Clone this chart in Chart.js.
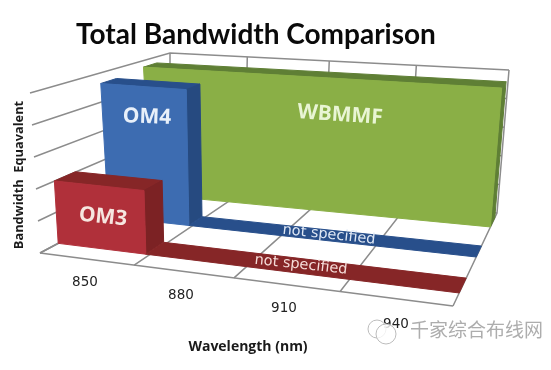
<!DOCTYPE html>
<html>
<head>
<meta charset="utf-8">
<title>Total Bandwidth Comparison</title>
<style>
  html, body { margin: 0; padding: 0; background: #fff; }
  #box { width: 551px; height: 370px; }
</style>
<script src="https://cdn.jsdelivr.net/npm/chart.js@4"></script>
</head>
<body>
<div id="box"><canvas id="chart" width="551" height="370"></canvas></div>
<script>
"use strict";

const wavelengths = ['850', '880', '910', '940'];
const valueTicks = [0, 1, 2, 3, 4, 5];
const om3Values = [2, 0, 0, 0];
const om4Values = [4.6, 0, 0, 0];
const wbmmfValues = [4.7, 4.7, 4.7, 4.7];

// depth slots of the three rows on the floor, 0 = front edge, 1 = back wall
const rows = [
    { name: 'OM3', values: om3Values, v0: 0.14, v1: 0.30, front: '#b0303a', top: '#862627', side: '#7c2224' },
    { name: 'OM4', values: om4Values, v0: 0.527, v1: 0.645, front: '#3d6cb1', top: '#284f8b', side: '#264a80' },
    { name: 'WBMMF', values: wbmmfValues, v0: 0.85, v1: 0.95, front: '#8aaf46', top: '#5f7f35', side: '#5f7f35' }
];

// corners of the 3d box as they land on the picture
const floorFL = [40, 253], floorFR = [453, 306], floorBL = [170, 184], floorBR = [497, 213];
const roofFL = [30, 93], roofFR = [465, 131], roofBL = [170, 53], roofBR = [509, 70];
const PERSP = 0.886;
const BAR_LEAN = 7; // bars lean a bit further left than the wall corner
const BAR_INSET = 0.04;

const mix = (a, b, t) => [a[0] + (b[0] - a[0]) * t, a[1] + (b[1] - a[1]) * t];

// u: 0..number of categories, v: depth 0..1, value: on the value axis
const project = (u, v, value, lean = 0) => {
    const t = u / wavelengths.length;
    const w = PERSP * t / (1 + (PERSP - 1) * t);
    const h = value / valueTicks[valueTicks.length - 1];
    const low = mix(mix(floorFL, floorFR, w), mix(floorBL, floorBR, w), v);
    const high = mix(mix(roofFL, roofFR, w), mix(roofBL, roofBR, w), v);
    const p = mix(low, high, h);
    return { x: p[0] - lean * v * h * Math.pow(1 - w, 3), y: p[1] };
};

const datasets = [];
const addShape = (points, color) => datasets.push({
    data: points, borderColor: color, backgroundColor: color, borderWidth: 1,
    fill: 'shape', pointRadius: 0, tension: 0
});
const addLine = (points) => datasets.push({
    data: points, borderColor: '#8c8c8c', borderWidth: 1.5, fill: false, pointRadius: 0, tension: 0
});

// walls and floor grid
const maxValue = valueTicks[valueTicks.length - 1];
valueTicks.forEach(val => addLine([project(0, 0, val), project(0, 1, val), project(wavelengths.length, 1, val)]));
for (let i = 0; i <= wavelengths.length; i++) {
    addLine([project(i, 0, 0), project(i, 1, 0), project(i, 1, maxValue)]);
}
addLine([project(0, 0, 0), project(wavelengths.length, 0, 0)]);

// bars, back row first; equal neighbours are merged to one block
[...rows].reverse().forEach(row => {
    const n = row.values.length;
    let i = 0;
    while (i < n) {
        let j = i + 1;
        while (j < n && row.values[j] === row.values[i]) j++;
        const val = row.values[i];
        const end = j < n ? j - BAR_INSET : j;
        const at = (u, v, height) => project(u, v, height, BAR_LEAN);
        if (val === 0) {
            const start = i - BAR_INSET; // the flat strip runs up to the bar next to it
            addShape([at(start, row.v0, 0), at(j, row.v0, 0), at(j, row.v1, 0), at(start, row.v1, 0), at(start, row.v0, 0)], row.top);
        } else {
            addShape([at(i, row.v0, val), at(end, row.v0, val), at(end, row.v1, val), at(i, row.v1, val), at(i, row.v0, val)], row.top);
            addShape([at(end, row.v0, 0), at(end, row.v1, 0), at(end, row.v1, val), at(end, row.v0, val), at(end, row.v0, 0)], row.side);
            addShape([at(i, row.v0, 0), at(end, row.v0, 0), at(end, row.v0, val), at(i, row.v0, val), at(i, row.v0, 0)], row.front);
        }
        i = j;
    }
});
datasets.forEach((d, i) => { d.order = datasets.length - i; });

const drawText = (ctx, text, x, y, font, color, angle = 0) => {
    ctx.save();
    ctx.translate(x, y);
    ctx.rotate(angle * Math.PI / 180);
    ctx.font = font;
    ctx.fillStyle = color;
    ctx.textAlign = 'center';
    ctx.textBaseline = 'middle';
    ctx.fillText(text, 0, 0);
    ctx.restore();
};

const textPlugin = {
    id: 'texts',
    afterDatasetsDraw(chart) {
        const ctx = chart.ctx;
        drawText(ctx, 'Total Bandwidth Comparison', 256, 35, 'bold 28px Lato', '#0a0a0a');
        drawText(ctx, 'Wavelength (nm)', 248, 347, 'bold 14px "Open Sans"', '#1a1a1a');
        drawText(ctx, 'Bandwidth  Equavalent', 19, 175, 'bold 12.8px "Open Sans"', '#1a1a1a', -90);

        const tickX = [85, 181, 284, 396];
        const tickY = [282, 295, 308, 324];
        wavelengths.forEach((w, i) => drawText(ctx, w, tickX[i], tickY[i], '13.5px "DejaVu Sans"', '#222'));

        drawText(ctx, 'OM3', 103, 217, 'bold 21px "Open Sans"', '#f6e6e0', 6);
        drawText(ctx, 'OM4', 147, 117, 'bold 21px "Open Sans"', '#e8f0fa', 2);
        drawText(ctx, 'WBMMF', 340, 115, 'bold 21px "Open Sans"', '#e9f5d4', 4);
        drawText(ctx, 'not specified', 329, 235, '14.5px "DejaVu Sans"', '#dfe8f5', 6);
        drawText(ctx, 'not specified', 301, 265, '14.5px "DejaVu Sans"', '#f5dcd8', 6);

        // watermark
        ctx.save();
        ctx.strokeStyle = '#bcbcbc';
        ctx.lineWidth = 1;
        ctx.beginPath();
        ctx.arc(377, 329, 9, 0, Math.PI * 2);
        ctx.stroke();
        ctx.fillStyle = 'rgba(255,255,255,0.8)';
        ctx.beginPath();
        ctx.arc(386, 334, 10, 0, Math.PI * 2);
        ctx.fill();
        ctx.stroke();
        ctx.restore();
        ctx.save();
        ctx.font = '19px "Noto Sans CJK SC"';
        ctx.fillStyle = '#adadad';
        ctx.textAlign = 'left';
        ctx.textBaseline = 'middle';
        ctx.fillText('千家综合布线网', 410, 330);
        ctx.restore();
    }
};

new Chart(document.getElementById('chart'), {
    type: 'line',
    data: { datasets },
    options: {
        responsive: false,
        animation: false,
        layout: { padding: 0 },
        plugins: { legend: { display: false }, tooltip: { enabled: false }, title: { display: false } },
        scales: {
            x: { type: 'linear', min: 0, max: 551, display: false },
            y: { type: 'linear', min: 0, max: 370, reverse: true, display: false }
        }
    },
    plugins: [textPlugin]
});
</script>
</body>
</html>
